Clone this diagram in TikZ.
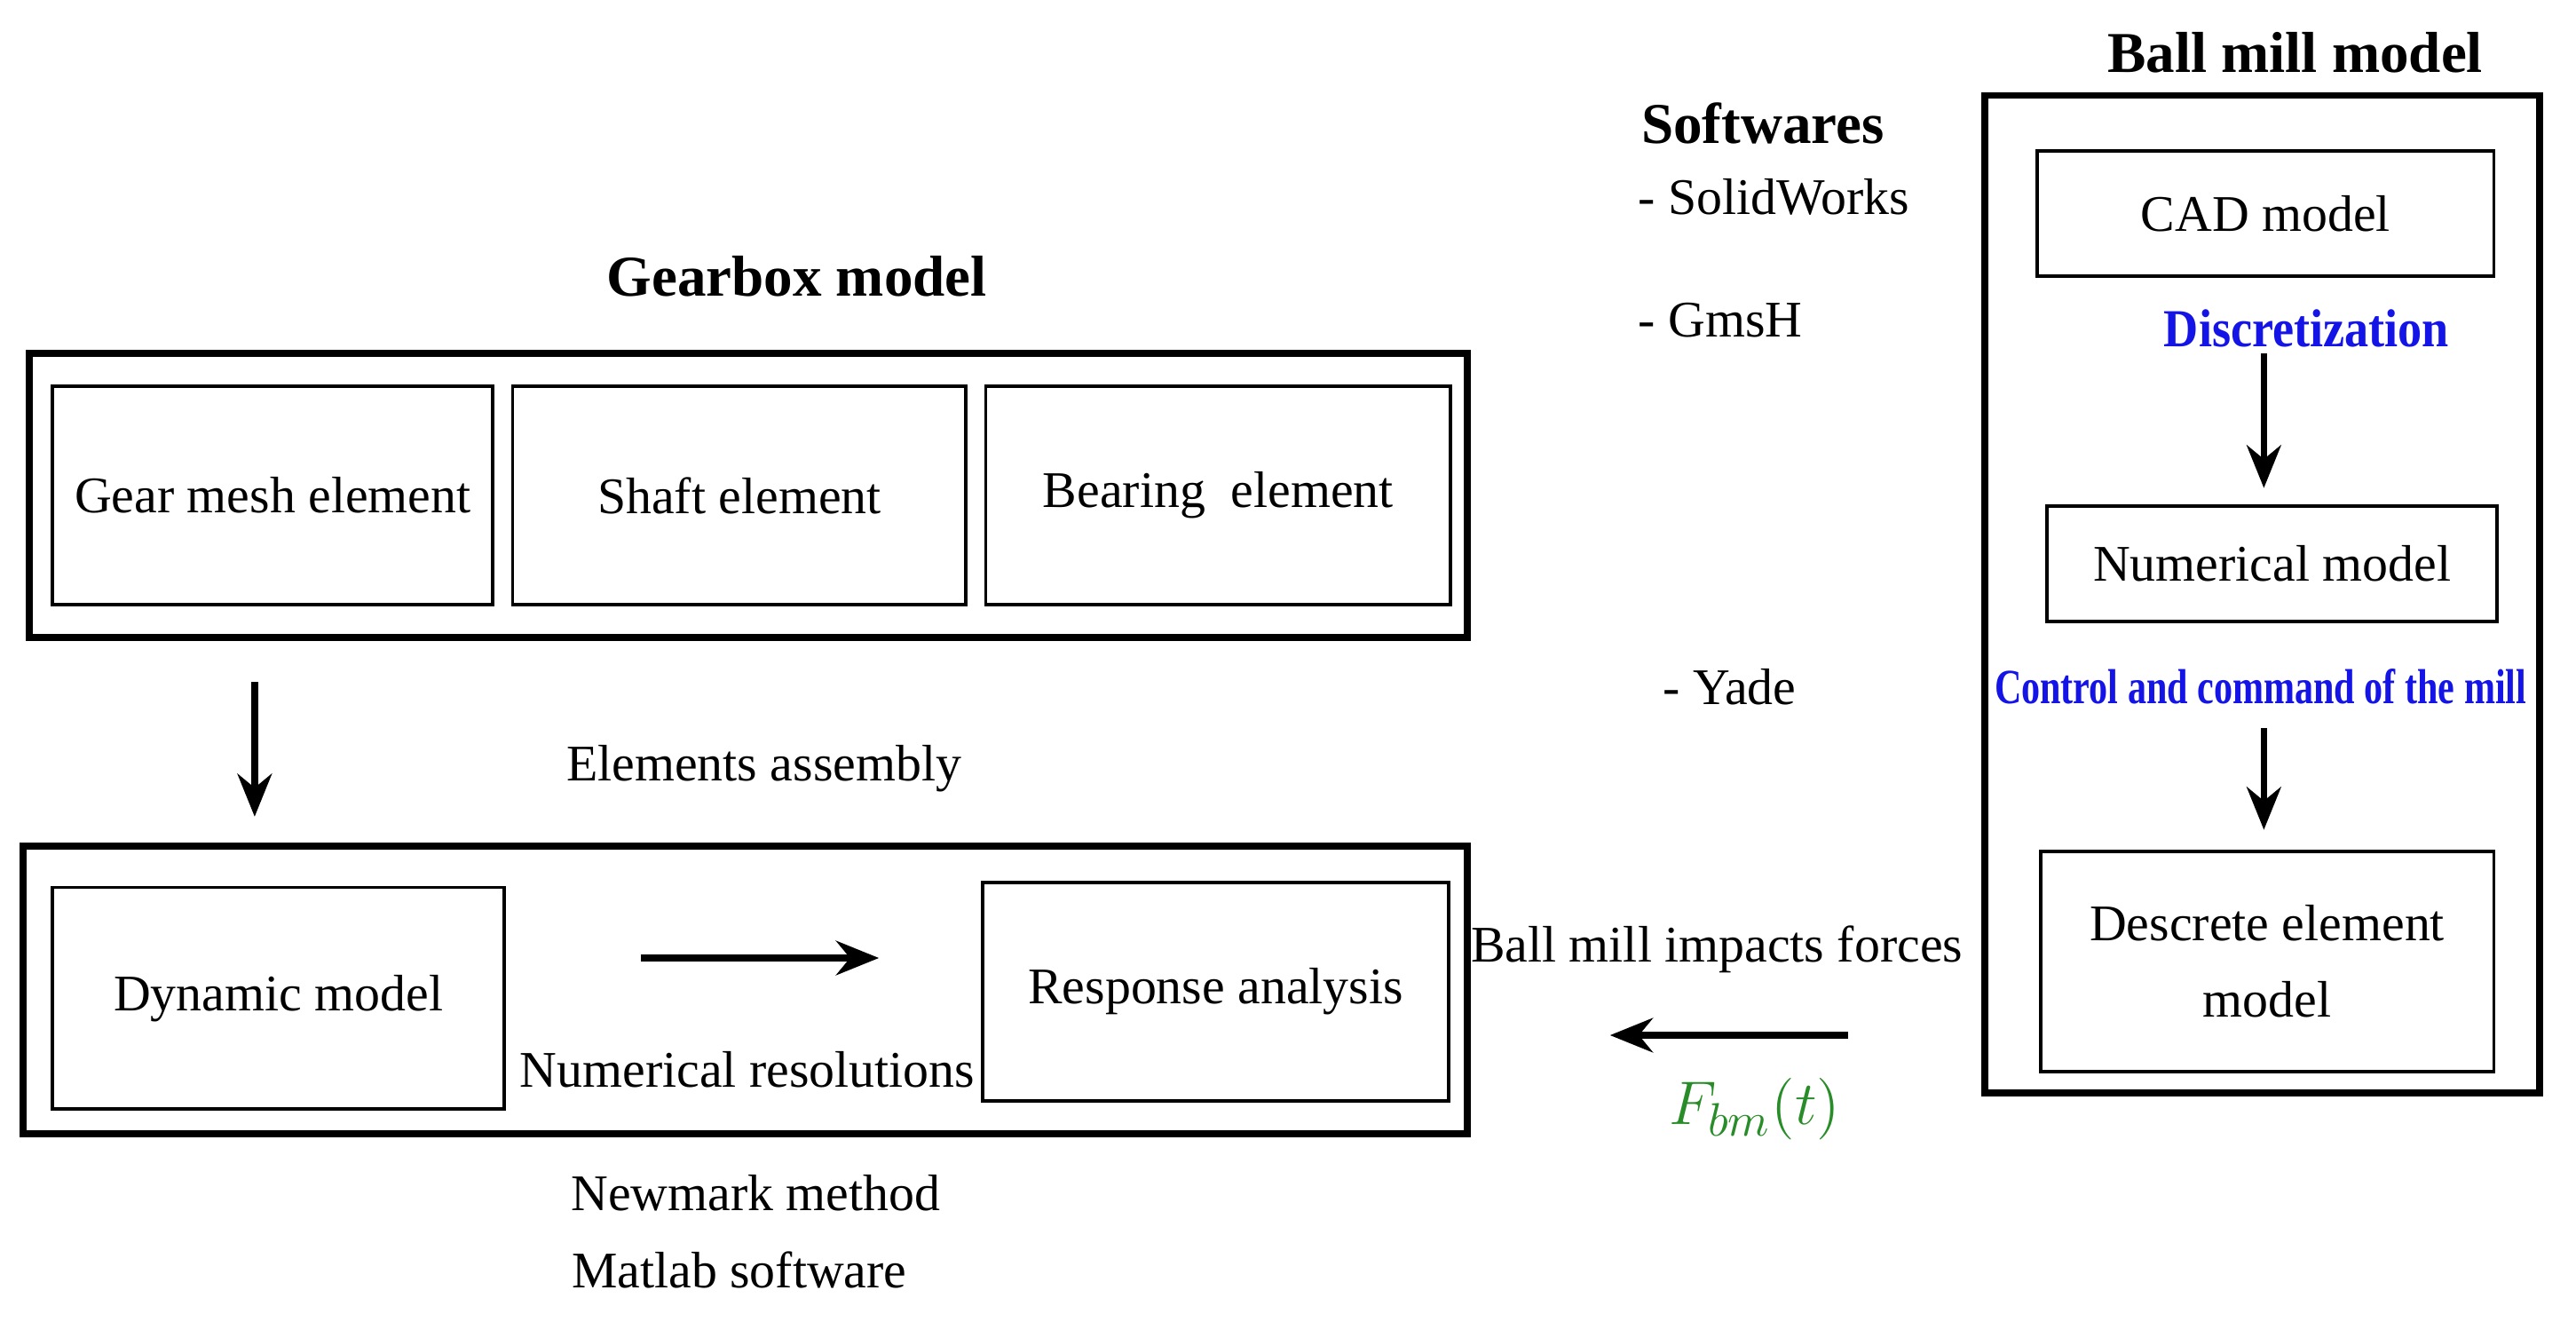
\documentclass[tikz,border=0pt]{standalone}
\usepackage{fontspec}
\setmainfont{Liberation Serif}
\usetikzlibrary{arrows.meta, positioning}
\definecolor{labelBlue}{RGB}{20, 20, 230}
\definecolor{forceGreen}{RGB}{40, 140, 40}

\begin{document}
\begin{tikzpicture}
    [
		x=0.135mm, y=-0.135mm,
		font=\fontsize{12}{14}\selectfont,
		box/.style={
			draw, thick, align=center, inner sep=0pt
		},
		frame/.style={
			draw, line width=1.6pt
		},
		title/.style={
			font=\fontsize{13.5}{16}\selectfont\bfseries
		},
		stage/.style={
			font=\fontsize{12.5}{15}\selectfont\bfseries, text=labelBlue
		},
		flow/.style={
			-{Stealth[length=10pt, width=8pt]}, line width=1.6pt
		}
	]
\useasboundingbox (0,0) rectangle (1568,804);

% Gearbox side
\node (gbtitle) [title] at (485,168) {Gearbox model};
\draw [frame] (18,215) rectangle (893,388);
\draw [box] (32,235) rectangle node (mesh) {Gear mesh element} (300,368);
\draw [box] (312,235) rectangle node (shaft) {Shaft element} (588,368);
\draw [box] (600,235) rectangle node (bearing) {Bearing~ element} (883,368);

\coordinate (asmtop) at (155,415);
\coordinate (asmbot) at (155,497);
\draw [flow] (asmtop) -- (asmbot);
\node (assembly) at (465,468) {Elements assembly};

\draw [frame] (14,515) rectangle (893,690);
\draw [box] (32,540) rectangle node (dyn) {Dynamic model} (307,675);
\draw [box] (598,537) rectangle node (resp) {Response analysis} (882,670);
\coordinate (resstart) at (390,583);
\coordinate (resend) at (535,583);
\draw [flow] (resstart) -- (resend);
\node (numres) at (455,651) {Numerical resolutions};
\node (newmark) at (460,726) {Newmark method};
\node (matlab) at (450,773) {Matlab software};

% Softwares
\node (soft) [title, anchor=west] at (990,75) {Softwares};
\node (sw) [anchor=west] at (988,120) {- SolidWorks};
\node (gmsh) [anchor=west] at (988,195) {- GmsH};
\node (yade) [anchor=west] at (1003,418) {- Yade};

% Ball mill side
\node (bmtitle) [title] at (1397,32) {Ball mill model};
\draw [frame] (1208,58) rectangle (1546,665);
\draw [box] (1240,92) rectangle node (cad) {CAD model} (1518,168);
\node (disc) [stage] at (1404,200) {\scalebox{0.9}[1]{Discretization}};
\coordinate (d1) at (1378,215);
\coordinate (d2) at (1378,297);
\draw [flow] (d1) -- (d2);
\draw [box] (1246,308) rectangle node (num) {Numerical model} (1520,378);
\node (ctrl) [stage, font=\fontsize{11.5}{13}\selectfont\bfseries] at (1376,418)
	{\scalebox{0.76}[1]{Control and command of the mill}};
\coordinate (c1) at (1378,443);
\coordinate (c2) at (1378,505);
\draw [flow] (c1) -- (c2);
\draw [box] (1242,518) rectangle node (dem) {Descrete element\\[4pt]model} (1518,652);

% Coupling force
\node (impact) at (1045,578) {Ball mill impacts forces};
\coordinate (f1) at (1125,630);
\coordinate (f2) at (980,630);
\draw [flow] (f1) -- (f2);
\node (fbm) [text=forceGreen, font=\fontsize{15}{18}\selectfont] at (1068,675) {$F_{bm}(t)$};

\end{tikzpicture}
\end{document}
